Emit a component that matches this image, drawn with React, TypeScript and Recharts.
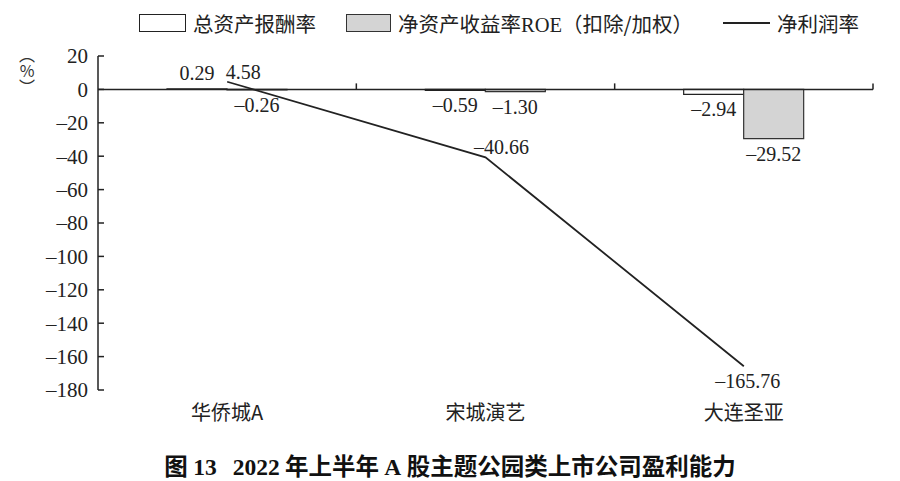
import React from "react";
import {
  ComposedChart,
  Bar,
  Line,
  XAxis,
  YAxis,
  ReferenceLine,
  LabelList,
} from "recharts";

// 2022 上半年 主题公园类上市公司盈利能力
const companies = ["华侨城A", "宋城演艺", "大连圣亚"];
const totalAssetReturn = [0.29, -0.59, -2.94];
const roeDeducted = [-0.26, -1.3, -29.52];
const netProfitMargin = [4.58, -40.66, -165.76];
const yTicks = [20, 0, -20, -40, -60, -80, -100, -120, -140, -160, -180];
const bandEdges = [1, 2, 3];

const data = companies.map((name, i) => ({
  name,
  pos: i + 0.5,
  asset: totalAssetReturn[i],
  roe: roeDeducted[i],
  margin: netProfitMargin[i],
}));

const serif = "'Liberation Serif', 'DejaVu Serif', serif";
const cjk = "'Noto Sans CJK SC', 'Noto Sans', sans-serif";

const fmt = (v: number) => v.toFixed(2).replace("-", "–");
const fmtTick = (v: number) => String(v).replace("-", "–");

const BarLabel = (props: any) => {
  const vb = props.viewBox || props;
  const x = vb.x ?? props.x;
  const y = vb.y ?? props.y;
  const w = vb.width ?? props.width;
  const h = vb.height ?? props.height;
  const v = Number(props.value);
  const top = Math.min(y, y + h);
  const bottom = Math.max(y, y + h);
  const ty = v >= 0 ? top - 16 : bottom + 15;
  return (
    <text
      x={x + w / 2}
      y={ty}
      textAnchor="middle"
      dominantBaseline="central"
      fontFamily={serif}
      fontSize={20}
      fill="#222"
    >
      {fmt(v)}
    </text>
  );
};

const LineLabel = (props: any) => {
  const x = props.x ?? props.viewBox?.x;
  const y = props.y ?? props.viewBox?.y;
  const v = Number(props.value);
  const lowest = v === Math.min(...netProfitMargin);
  return (
    <text
      x={lowest ? x + 4 : x + 16}
      y={lowest ? y + 15 : y - 10}
      textAnchor="middle"
      dominantBaseline="central"
      fontFamily={serif}
      fontSize={20}
      fill="#222"
    >
      {fmt(v)}
    </text>
  );
};

function Legend() {
  const item = { display: "flex", alignItems: "center", gap: 7 } as const;
  return (
    <div
      style={{
        position: "absolute",
        left: 139,
        top: 8,
        display: "flex",
        alignItems: "center",
        gap: 30,
        fontFamily: cjk,
        fontSize: 20.5,
        color: "#222",
      }}
    >
      <div style={item}>
        <span style={{ width: 45, height: 16, border: "1.3px solid #222", background: "#fff", display: "inline-block" }} />
        <span>总资产报酬率</span>
      </div>
      <div style={item}>
        <span style={{ width: 43, height: 16, border: "1.3px solid #333", background: "#d4d4d4", display: "inline-block" }} />
        <span>
          净资产收益率<span style={{ fontFamily: serif }}>ROE</span>（扣除/加权）
        </span>
      </div>
      <div style={item}>
        <span style={{ width: 47, height: 0, borderTop: "2px solid #222", display: "inline-block" }} />
        <span>净利润率</span>
      </div>
    </div>
  );
}

function UnitLabel() {
  return (
    <div
      style={{
        position: "absolute",
        left: 17,
        top: 47,
        writingMode: "vertical-rl",
        textOrientation: "upright",
        fontFamily: cjk,
        fontSize: 16,
        lineHeight: "20px",
        color: "#333",
      }}
    >
      （%）
    </div>
  );
}

export default function App() {
  return (
    <div style={{ position: "absolute", left: 0, top: 0, width: 900, height: 481, background: "#fff" }}>
      <Legend />
      <UnitLabel />
      <ComposedChart
        width={900}
        height={481}
        data={data}
        margin={{ top: 56, right: 27, bottom: 61, left: 0 }}
        barGap={0}
      >
        <XAxis
          dataKey="pos"
          type="number"
          domain={[0, 3]}
          ticks={[0.5, 1.5, 2.5]}
          tickFormatter={(v: number) => companies[Math.floor(v)]}
          axisLine={false}
          tickLine={false}
          height={30}
          tickMargin={10}
          tick={{ fontFamily: cjk, fontSize: 20, fill: "#222" }}
        />
        <YAxis
          type="number"
          domain={[-180, 20]}
          ticks={yTicks}
          width={98}
          tickSize={-6}
          tickMargin={16}
          tickFormatter={fmtTick}
          axisLine={{ stroke: "#222", strokeWidth: 1.5 }}
          tickLine={{ stroke: "#222", strokeWidth: 1.5 }}
          tick={{ fontFamily: serif, fontSize: 21, fill: "#222" }}
        />
        <ReferenceLine y={0} stroke="#222" strokeWidth={1.5} />
        {bandEdges.map((b) => (
          <ReferenceLine
            key={b}
            segment={[
              { x: b, y: 0 },
              { x: b, y: 3.6 },
            ]}
            stroke="#222"
            strokeWidth={1.5}
            ifOverflow="visible"
          />
        ))}
        <Bar dataKey="asset" fill="#ffffff" stroke="#222" strokeWidth={1.2} barSize={60} isAnimationActive={false}>
          <LabelList dataKey="asset" content={BarLabel} />
        </Bar>
        <Bar dataKey="roe" fill="#d4d4d4" stroke="#333" strokeWidth={1.2} barSize={60} isAnimationActive={false}>
          <LabelList dataKey="roe" content={BarLabel} />
        </Bar>
        <Line
          dataKey="margin"
          type="linear"
          stroke="#222"
          strokeWidth={1.8}
          dot={false}
          isAnimationActive={false}
        >
          <LabelList dataKey="margin" content={LineLabel} />
        </Line>
      </ComposedChart>
      <div
        style={{
          position: "absolute",
          left: 0,
          width: 900,
          top: 451,
          lineHeight: "28px",
          textAlign: "center",
          fontFamily: cjk,
          fontWeight: 700,
          fontSize: 23.5,
          color: "#111",
          whiteSpace: "nowrap",
        }}
      >
        图 <span style={{ fontFamily: serif }}>13</span>&nbsp;&nbsp;&nbsp;<span style={{ fontFamily: serif }}>2022</span> 年上半年{" "}
        <span style={{ fontFamily: serif }}>A</span> 股主题公园类上市公司盈利能力
      </div>
    </div>
  );
}
